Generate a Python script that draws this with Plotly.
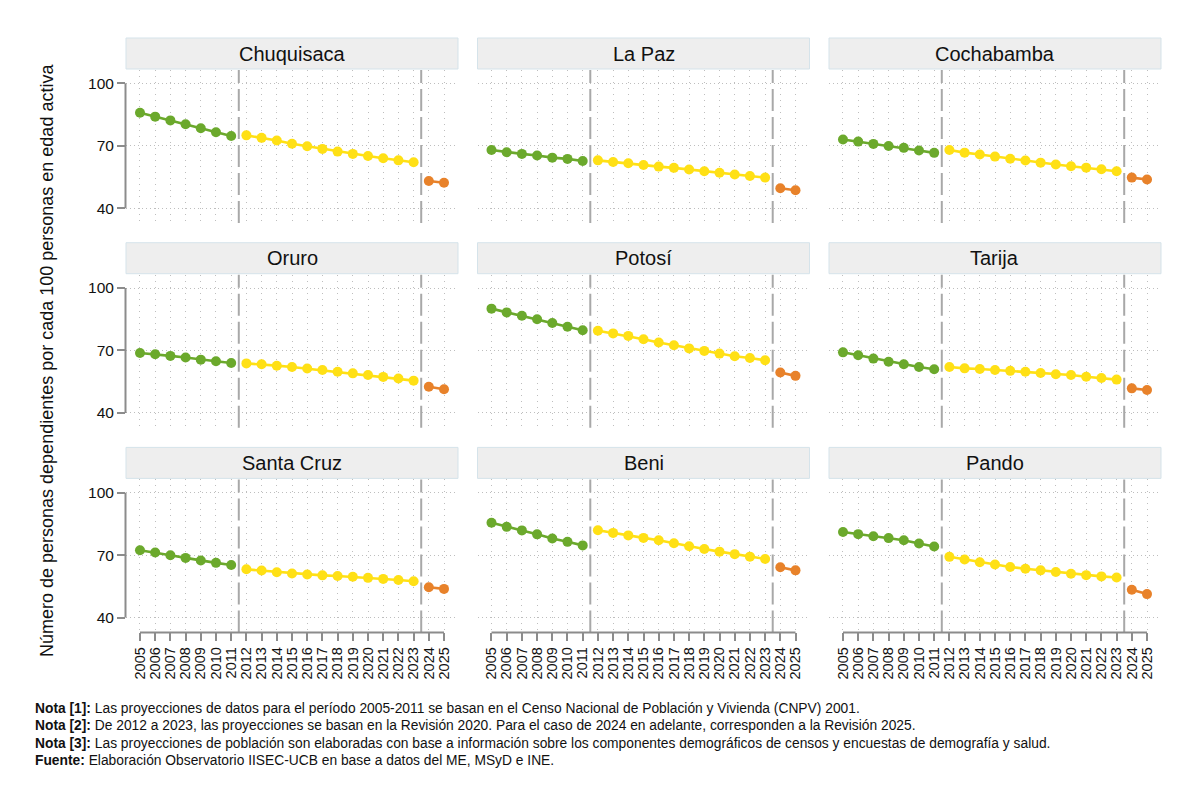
import plotly.graph_objects as go

years = list(range(2005, 2026))
departments = ["Chuquisaca", "La Paz", "Cochabamba", "Oruro", "Potosí", "Tarija",
               "Santa Cruz", "Beni", "Pando"]

# 2005-2011 (CNPV 2001), 2012-2023 (Revisión 2020), 2024-2025 (Revisión 2025)
chuquisaca = [85.9, 84.0, 82.2, 80.3, 78.4, 76.5, 74.7,
              75.0, 73.8, 72.5, 71.0, 69.8, 68.5, 67.2, 66.1, 65.1, 64.0, 63.0, 62.1,
              53.1, 52.2]
la_paz = [68.0, 66.9, 66.1, 65.3, 64.3, 63.7, 62.7,
          63.0, 62.2, 61.6, 60.8, 60.0, 59.4, 58.6, 57.8, 57.0, 56.2, 55.5, 54.7,
          49.6, 48.6]
cochabamba = [73.0, 72.0, 70.9, 69.9, 69.0, 67.7, 66.6,
              68.0, 66.7, 65.8, 64.8, 63.8, 62.9, 61.9, 61.0, 60.2, 59.5, 58.7, 57.8,
              54.7, 53.8]
oruro = [68.8, 68.2, 67.4, 66.6, 65.6, 64.8, 64.0,
         63.8, 63.4, 62.7, 62.1, 61.3, 60.6, 59.8, 59.0, 58.2, 57.3, 56.5, 55.5,
         52.6, 51.4]
potosi = [90.1, 88.3, 86.7, 85.0, 83.2, 81.4, 79.7,
          79.5, 78.2, 77.0, 75.4, 73.8, 72.5, 71.0, 69.8, 68.5, 67.2, 66.4, 65.3,
          59.4, 57.8]
tarija = [69.1, 67.7, 66.1, 64.6, 63.4, 62.1, 61.0,
          62.1, 61.4, 61.1, 60.6, 60.2, 59.8, 59.2, 58.6, 58.2, 57.4, 56.8, 56.0,
          51.8, 51.0]
santa_cruz = [72.4, 71.3, 70.0, 68.7, 67.4, 66.3, 65.3,
              63.2, 62.6, 61.8, 61.2, 60.7, 60.3, 60.0, 59.6, 59.1, 58.6, 58.1, 57.5,
              54.6, 53.8]
beni = [85.6, 83.6, 81.9, 80.0, 78.0, 76.4, 74.7,
        82.0, 80.7, 79.5, 78.3, 77.2, 75.7, 74.3, 73.0, 71.7, 70.5, 69.3, 68.2,
        64.2, 62.7]
pando = [81.1, 80.1, 79.1, 78.2, 77.2, 75.6, 74.2,
         69.2, 67.9, 66.6, 65.5, 64.3, 63.5, 62.7, 61.9, 61.1, 60.4, 59.8, 59.3,
         53.4, 51.3]

series = [chuquisaca, la_paz, cochabamba, oruro, potosi, tarija, santa_cruz, beni, pando]

period_bounds = [(2005, 2011), (2012, 2023), (2024, 2025)]
period_colors = ["#6BA92C", "#FFE015", "#E8822A"]
y_ticks = [40, 70, 100]
x_breaks = [2011.5, 2023.5]

notes = [
    ("Nota [1]:", " Las proyecciones de datos para el período 2005-2011 se basan en el Censo Nacional de Población y Vivienda (CNPV) 2001."),
    ("Nota [2]:", " De 2012 a 2023, las proyecciones se basan en la Revisión 2020. Para el caso de 2024 en adelante, corresponden a la Revisión 2025."),
    ("Nota [3]:", " Las proyecciones de población son elaboradas con base a información sobre los componentes demográficos de censos y encuestas de demografía y salud."),
    ("Fuente:", " Elaboración Observatorio IISEC-UCB en base a datos del ME, MSyD e INE."),
]
y_title = "Número de personas dependientes por cada 100 personas en edad activa"

# ---------------- layout geometry ----------------
W, H = 1200, 801
col_left = [126, 477.5, 829]
col_w = 332
row_top = [70, 274.7, 479.4]
row_h = 153
strip_h = 31
FONT = "Liberation Sans, Arial, sans-serif"

fig = go.Figure()
layout = dict(
    width=W, height=H,
    margin=dict(l=0, r=0, t=0, b=0),
    paper_bgcolor="white", plot_bgcolor="white",
    showlegend=False,
)
shapes = []
annotations = []

for i, (name, vals) in enumerate(zip(departments, series)):
    r, c = divmod(i, 3)
    n = i + 1
    xa = "x" if n == 1 else f"x{n}"
    ya = "y" if n == 1 else f"y{n}"
    xd = [col_left[c] / W, (col_left[c] + col_w) / W]
    yd = [1 - (row_top[r] + row_h) / H, 1 - row_top[r] / H]

    for (a, b), col in zip(period_bounds, period_colors):
        xs = [yr for yr in years if a <= yr <= b]
        ys = [v for yr, v in zip(years, vals) if a <= yr <= b]
        fig.add_trace(go.Scatter(
            x=xs, y=ys, mode="lines+markers", xaxis=xa, yaxis=ya,
            line=dict(color=col, width=2.6),
            marker=dict(color=col, size=10),
            hoverinfo="x+y", name=name,
        ))

    bottom = (r == 2)
    left = (c == 0)
    layout["xaxis" if n == 1 else f"xaxis{n}"] = dict(
        domain=xd, anchor=ya, range=[2004.08, 2025.92],
        tickmode="array", tickvals=years, ticktext=[str(y) for y in years],
        showgrid=True, gridcolor="#BEBEBE", gridwidth=1, griddash="1px,5px",
        showline=False, zeroline=False,
        ticks="outside" if bottom else "", ticklen=8, tickcolor="#8C8C8C", tickwidth=1.5,
        showticklabels=bottom, tickangle=-90,
        tickfont=dict(family=FONT, size=14.5, color="#111111"),
        fixedrange=True,
    )
    layout["yaxis" if n == 1 else f"yaxis{n}"] = dict(
        domain=yd, anchor=xa, range=[32.9, 106.4],
        tickmode="array", tickvals=y_ticks,
        showgrid=True, gridcolor="#BEBEBE", gridwidth=1, griddash="1px,3px",
        showline=False, zeroline=False,
        ticks="outside" if left else "", ticklen=8, tickcolor="#8C8C8C", tickwidth=1.5,
        showticklabels=left,
        tickfont=dict(family=FONT, size=15.5, color="#111111"),
        fixedrange=True,
    )

    # vertical dashed separators
    for xb in x_breaks:
        shapes.append(dict(type="line", xref=xa, yref=f"{ya} domain",
                           x0=xb, x1=xb, y0=0, y1=1,
                           line=dict(color="#A8A8A8", width=2, dash="22px,6px")))
    # strip header
    shapes.append(dict(type="rect", xref="paper", yref="paper",
                       x0=xd[0], x1=xd[1],
                       y0=1 - (row_top[r] - 1) / H, y1=1 - (row_top[r] - 1 - strip_h) / H,
                       fillcolor="#EEEEEE", line=dict(color="#D5E3EA", width=1), layer="below"))
    annotations.append(dict(text=name, xref="paper", yref="paper",
                            x=(xd[0] + xd[1]) / 2, y=1 - (row_top[r] - 1 - strip_h / 2) / H,
                            xanchor="center", yanchor="middle", showarrow=False,
                            font=dict(family=FONT, size=20, color="#111111")))
    # Stata-like axis spines spanning only the tick range
    if left:
        shapes.append(dict(type="line", xref="paper", yref=ya,
                           x0=(col_left[c] - 0.5) / W, x1=(col_left[c] - 0.5) / W,
                           y0=min(y_ticks), y1=max(y_ticks),
                           line=dict(color="#8C8C8C", width=2)))
    if bottom:
        shapes.append(dict(type="line", xref=xa, yref=f"{ya} domain",
                           x0=years[0], x1=years[-1], y0=0, y1=0,
                           line=dict(color="#8C8C8C", width=2)))

annotations.append(dict(text=y_title, xref="paper", yref="paper",
                        x=47 / W, y=1 - 361 / H, textangle=-90,
                        xanchor="center", yanchor="middle", showarrow=False,
                        font=dict(family=FONT, size=18, color="#111111")))

note_y = [708, 725.5, 743, 760.5]
for (bold, rest), yy in zip(notes, note_y):
    annotations.append(dict(text=f"<b>{bold}</b>{rest}", xref="paper", yref="paper",
                            x=33 / W, y=1 - yy / H, xanchor="left", yanchor="middle",
                            showarrow=False, align="left",
                            font=dict(family=FONT, size=13.8, color="#111111")))

layout["shapes"] = shapes
layout["annotations"] = annotations
fig.update_layout(**layout)
fig.write_html("out.html")
